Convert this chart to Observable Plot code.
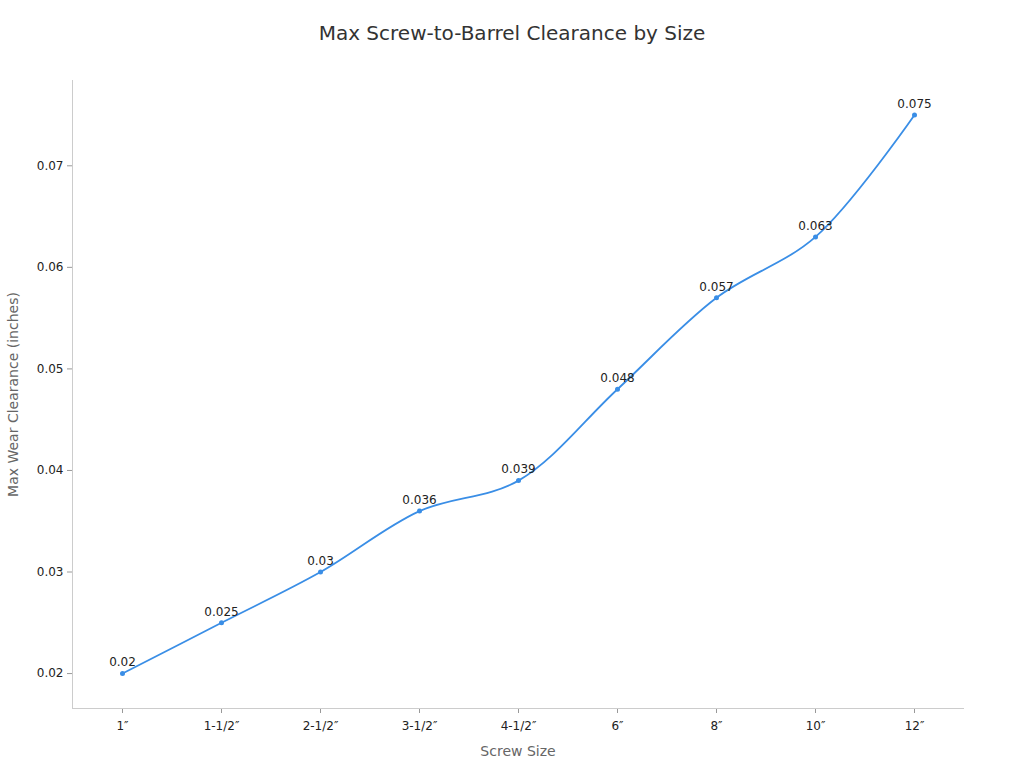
<!DOCTYPE html>
<html><head><meta charset="utf-8">
<script src="https://cdn.jsdelivr.net/npm/d3@7"></script>
<script src="https://cdn.jsdelivr.net/npm/@observablehq/plot@0.6"></script>
<style>
body{margin:0;background:#fff;font-family:"DejaVu Sans",sans-serif;}
#title{height:66px;line-height:66px;text-align:center;font-size:20px;color:#333;}
</style></head>
<body>
<div id="title">Max Screw-to-Barrel Clearance by Size</div>
<div id="chart"></div>
<script>
const sizes = ["1″","1-1/2″","2-1/2″","3-1/2″","4-1/2″","6″","8″","10″","12″"];
const clearance = [0.02,0.025,0.03,0.036,0.039,0.048,0.057,0.063,0.075];
const yTicks = [0.02,0.03,0.04,0.05,0.06,0.07];
const data = sizes.map((s,i)=>({size:s, value:clearance[i]}));
const color = "#3a8ee6";
const fmt = d=>String(+d.toFixed(3));
const chart = Plot.plot({
  width:1024, height:702,
  marginLeft:72, marginRight:61, marginTop:14, marginBottom:60,
  style:{fontFamily:"DejaVu Sans, sans-serif", fontSize:"12px", color:"#222", background:"#fff"},
  x:{type:"point", domain:sizes, padding:0.48, label:null},
  y:{domain:[0.01656,0.0784], label:null},
  marks:[
    Plot.axisX({tickSize:5, stroke:"#999", fontSize:12, tickPadding:8, label:null}),
    Plot.axisY({ticks:yTicks, tickSize:5, stroke:"#999", fontSize:12, tickPadding:4, label:null, tickFormat:fmt}),
    Plot.frame({anchor:"left", stroke:"#ccc"}),
    Plot.frame({anchor:"bottom", stroke:"#ccc"}),
    Plot.line(data,{x:"size", y:"value", stroke:color, strokeWidth:1.8, curve:"catmull-rom"}),
    Plot.dot(data,{x:"size", y:"value", fill:color, r:2.5}),
    Plot.text(data,{x:"size", y:"value", text:d=>String(d.value), dy:-11, fontSize:12, fill:"#222"}),
    Plot.text(["Screw Size"],{frameAnchor:"bottom", dy:47, fontSize:14, fill:"#666"}),
    Plot.text(["Max Wear Clearance (inches)"],{frameAnchor:"left", textAnchor:"middle", dx:-59, rotate:-90, fontSize:14, fill:"#666"})
  ]
});
document.getElementById("chart").appendChild(chart);
</script>
</body></html>
